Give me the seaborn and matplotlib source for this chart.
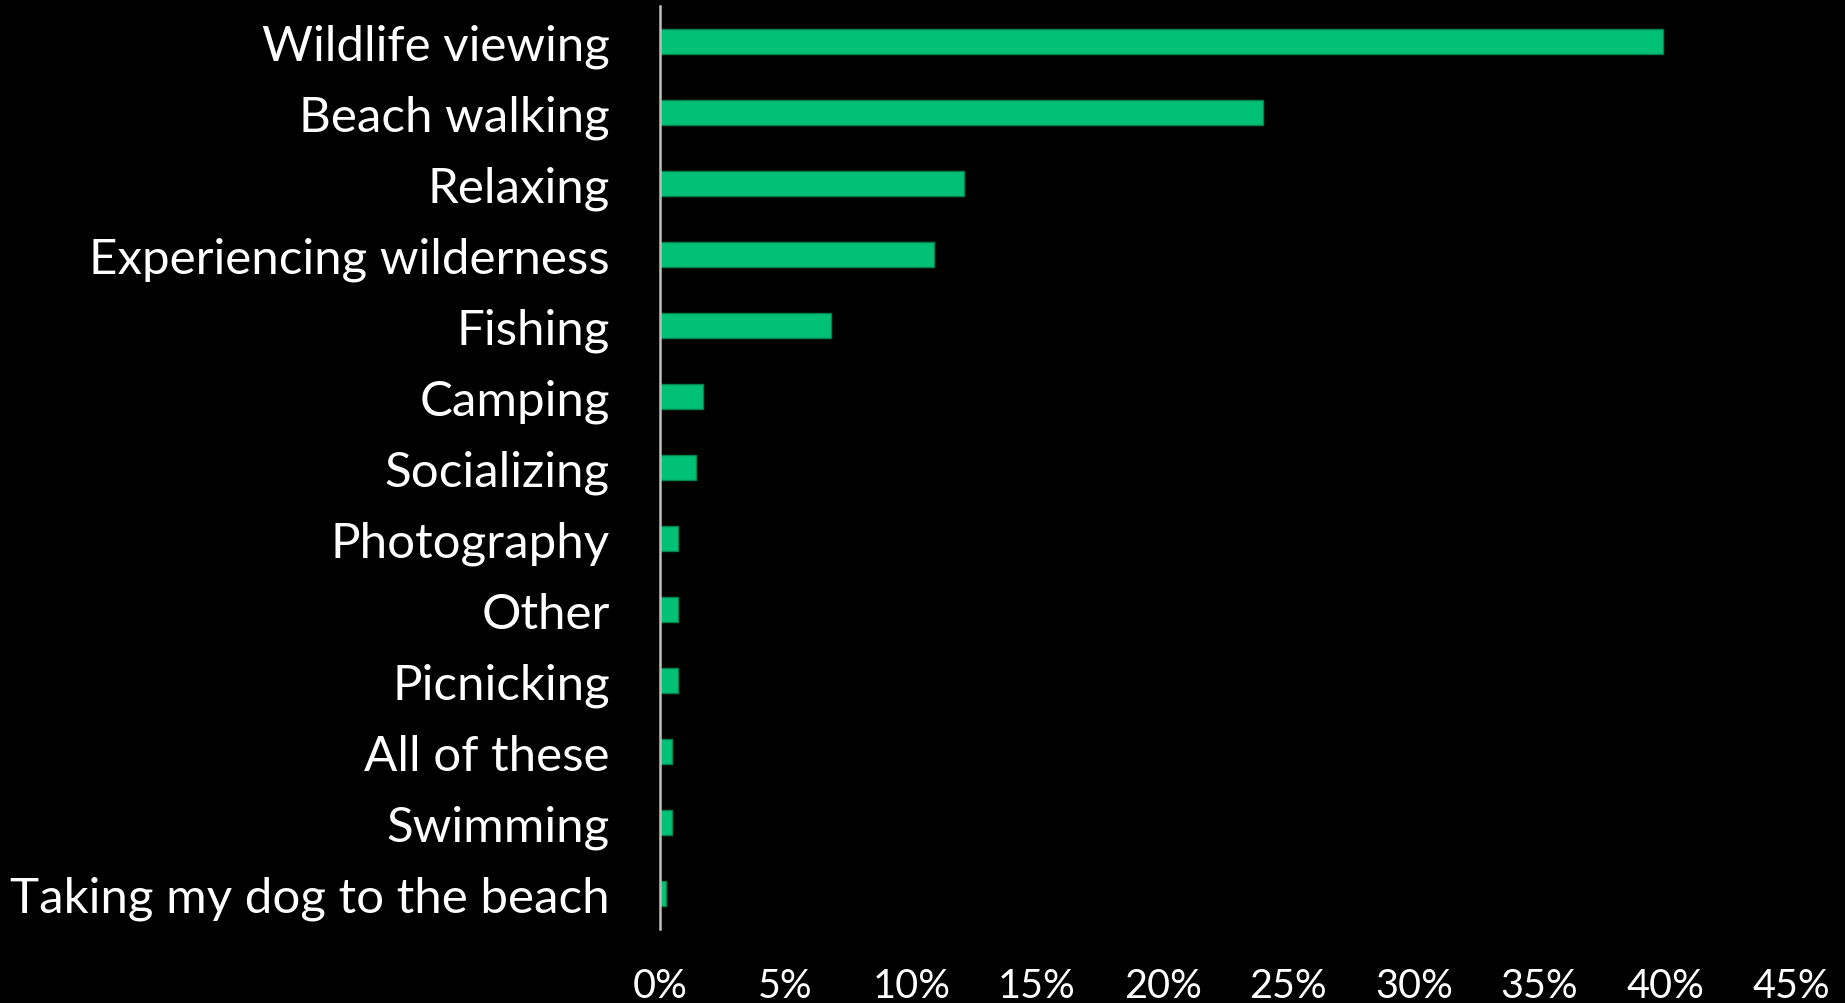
import pandas as pd
import matplotlib
matplotlib.use("Agg")
import matplotlib.pyplot as plt
import seaborn as sns
from matplotlib.ticker import PercentFormatter

# values (percent of respondents)
activities = [
    "Wildlife viewing", "Beach walking", "Relaxing", "Experiencing wilderness",
    "Fishing", "Camping", "Socializing", "Photography", "Other", "Picnicking",
    "All of these", "Swimming", "Taking my dog to the beach",
]
shares = [39.9, 24.0, 12.1, 10.9, 6.8, 1.7, 1.45, 0.73, 0.73, 0.73, 0.49, 0.49, 0.24]
x_ticks = [0, 5, 10, 15, 20, 25, 30, 35, 40, 45]

df = pd.DataFrame({"Activity": activities, "Share": shares})

sns.set_style("dark")
plt.rcParams["font.family"] = ["Lato", "DejaVu Sans"]

fig = plt.figure(figsize=(18.45, 10.04), dpi=100, facecolor="black")
ax = fig.add_axes([0.3577, 0.0737, 0.613, 0.9193])
ax.set_facecolor("black")

sns.barplot(data=df, x="Share", y="Activity", color="#00C176", width=0.35,
            edgecolor="#00834F", linewidth=1, saturation=1, ax=ax)

ax.set_xlim(0, 45)
ax.set_ylim(len(activities) - 0.5, -0.5)
ax.set_xticks(x_ticks)
ax.xaxis.set_major_formatter(PercentFormatter(decimals=0))
ax.set_xlabel("")
ax.set_ylabel("")
ax.grid(False)

for side in ["top", "right", "bottom"]:
    ax.spines[side].set_visible(False)
ax.spines["left"].set_color("#BFBFBF")
ax.spines["left"].set_linewidth(1.8)

ax.tick_params(axis="y", length=0, pad=36, labelsize=35.5, labelcolor="white")
ax.tick_params(axis="x", length=0, pad=27, labelsize=28.5, labelcolor="white")

fig.savefig("out.png", dpi=100, facecolor="black")
